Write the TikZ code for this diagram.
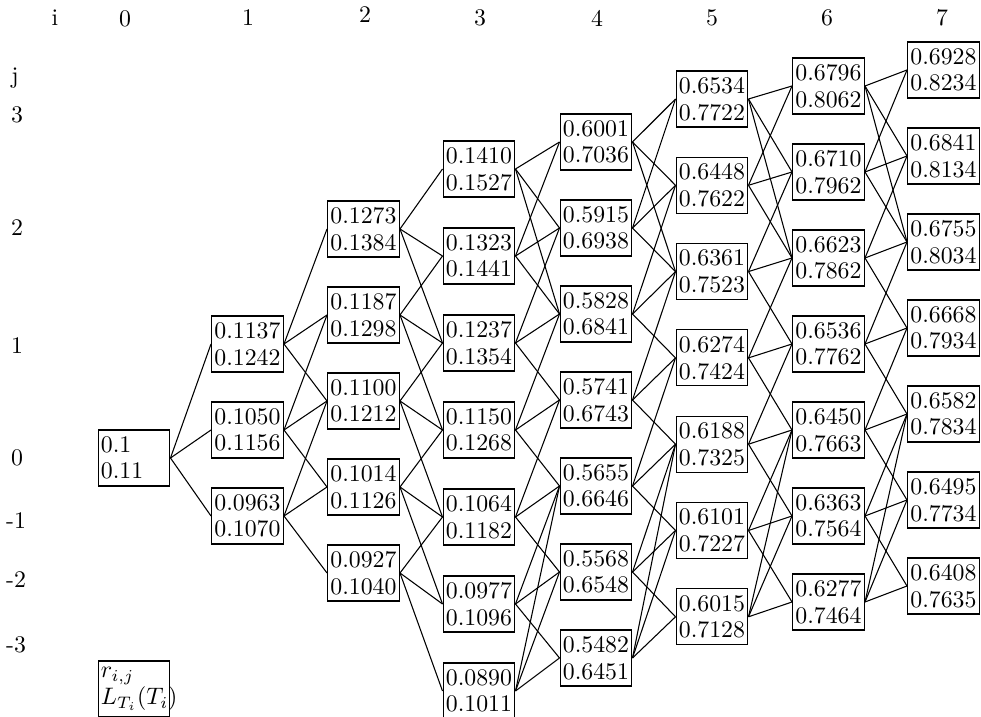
\documentclass[tikz,border=0pt]{standalone}
\begin{document}
\begin{tikzpicture}[x=0.42pt,y=-0.42pt,
  box/.style={draw, line width=0.45pt, text width=27.8pt, align=left, inner xsep=1.2pt, inner ysep=0pt, minimum height=23.5pt, font=\fontsize{10}{11.2}\selectfont},
  lab/.style={inner sep=0pt, font=\fontsize{10}{12}\selectfont},
  edge/.style={line width=0.45pt}]
\useasboundingbox (0,0) rectangle (981,717);
% headers
\node[lab] (hi) at (55,18) {i};
\node[lab] (h0) at (125,19) {0};
\node[lab] (h1) at (248,18) {1};
\node[lab] (h2) at (365,15) {2};
\node[lab] (h3) at (480,18) {3};
\node[lab] (h4) at (597,18) {4};
\node[lab] (h5) at (712,18) {5};
\node[lab] (h6) at (827,18) {6};
\node[lab] (h7) at (942,18) {7};
\node[lab] (vj) at (15,78) {j};
\node[lab] (v3) at (17,115) {3};
\node[lab] (v2) at (17,228) {2};
\node[lab] (v1) at (17,346) {1};
\node[lab] (v0) at (17,458) {0};
\node[lab] (vm1) at (16,521) {-1};
\node[lab] (vm2) at (16,580) {-2};
\node[lab] (vm3) at (16,645) {-3};
% nodes
\node[box] (c0-1) at (134,458) {0.1\\0.11};
\foreach \a/\b [count=\k] in {0.1137/0.1242,0.1050/0.1156,0.0963/0.1070}
  \node[box] (c1-\k) at (247.5,{344+86*(\k-1)}) {\a\\\b};
\foreach \a/\b [count=\k] in {0.1273/0.1384,0.1187/0.1298,0.1100/0.1212,0.1014/0.1126,0.0927/0.1040}
  \node[box] (c2-\k) at (363.5,{229+86*(\k-1)}) {\a\\\b};
\foreach \a/\b [count=\k] in {0.1410/0.1527,0.1323/0.1441,0.1237/0.1354,0.1150/0.1268,0.1064/0.1182,0.0977/0.1096,0.0890/0.1011}
  \node[box] (c3-\k) at (479,{169+87*(\k-1)}) {\a\\\b};
\foreach \a/\b [count=\k] in {0.6001/0.7036,0.5915/0.6938,0.5828/0.6841,0.5741/0.6743,0.5655/0.6646,0.5568/0.6548,0.5482/0.6451}
  \node[box] (c4-\k) at (596,{142+86*(\k-1)}) {\a\\\b};
\foreach \a/\b [count=\k] in {0.6534/0.7722,0.6448/0.7622,0.6361/0.7523,0.6274/0.7424,0.6188/0.7325,0.6101/0.7227,0.6015/0.7128}
  \node[box] (c5-\k) at (712,{99+86.3*(\k-1)}) {\a\\\b};
\foreach \a/\b [count=\k] in {0.6796/0.8062,0.6710/0.7962,0.6623/0.7862,0.6536/0.7762,0.6450/0.7663,0.6363/0.7564,0.6277/0.7464}
  \node[box] (c6-\k) at (828.5,{86+86*(\k-1)}) {\a\\\b};
\foreach \a/\b [count=\k] in {0.6928/0.8234,0.6841/0.8134,0.6755/0.8034,0.6668/0.7934,0.6582/0.7834,0.6495/0.7734,0.6408/0.7635}
  \node[box] (c7-\k) at (943.5,{70+86*(\k-1)}) {\a\\\b};
\node[box] (legend) at (134,689) {$r_{i,j}$\\$L_{T_i}(T_i)$};
% edges
\foreach \k in {1,2,3} \draw[edge] (c0-1.east) -- (c1-\k.west);
\foreach \k in {1,2,3} \foreach \d in {0,1,2} {
  \pgfmathtruncatemacro\t{\k+\d}
  \draw[edge] (c1-\k.east) -- (c2-\t.west);}
\foreach \k in {1,...,5} \foreach \d in {0,1,2} {
  \pgfmathtruncatemacro\t{\k+\d}
  \draw[edge] (c2-\k.east) -- (c3-\t.west);}
\foreach \c/\nc in {3/4,4/5,5/6,6/7} \foreach \k in {1,...,7} \foreach \d in {-1,0,1} {
  \pgfmathtruncatemacro\t{min(max(\k,2),6)+\d}
  \draw[edge] (c\c-\k.east) -- (c\nc-\t.west);}
\end{tikzpicture}
\end{document}
